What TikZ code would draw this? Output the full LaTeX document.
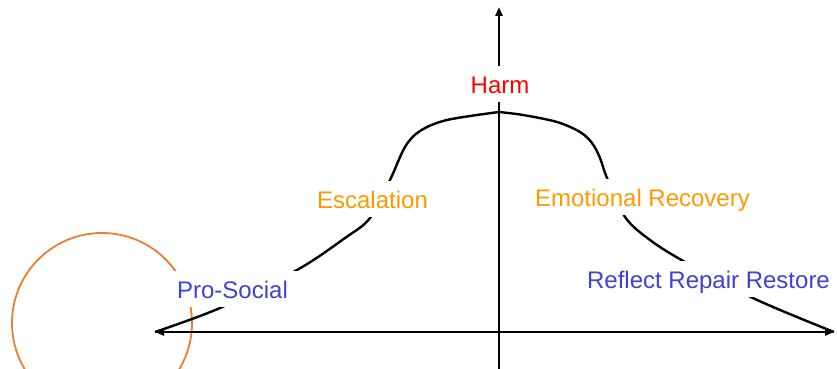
\documentclass[tikz,border=0pt]{standalone}
\usepackage{fontspec}
\setmainfont{Liberation Sans}
\usetikzlibrary{arrows.meta}
\definecolor{ink}{HTML}{000000}
\definecolor{harmred}{HTML}{FF0000}
\definecolor{amber}{HTML}{FF9900}
\definecolor{calm}{HTML}{4141D2}
\definecolor{ring}{HTML}{ED7D31}

\begin{document}
\begin{tikzpicture}[x=1pt,y=-1pt,font=\fontsize{24}{28}\selectfont,
  >={Triangle[length=9pt,width=7pt]},
  stage/.style={fill=white,inner xsep=14pt,inner ysep=0pt,
    text height=27pt,text depth=9pt,anchor=base}]
  \useasboundingbox (0,0) rectangle (837,369);
  \coordinate (west) at (155,332);
  \coordinate (east) at (834,332);
  \coordinate (top) at (499,7);
  \coordinate (foot) at (499,372);
  \coordinate (peak) at (499,112);

  \draw[ring,line width=1.8pt] (102,323) circle[radius=90];
  \draw[ink,line width=2.4pt,<->] (west)--(east);
  \draw[ink,line width=2.4pt,->] (foot)--(top);
  \draw[ink,line width=2.4pt] plot[smooth,tension=0.55] coordinates
    {(155,332) (220,308) (297,270) (345,238) (370,218) (390,180)
     (405,147) (420,131) (447,120) (499,112)};
  \draw[ink,line width=2.4pt] plot[smooth,tension=0.55] coordinates
    {(499,112) (523,115) (557,122) (580,132) (592,143) (600,158)
     (607,178) (625,217) (650,240) (685,262) (755,299) (834,332)};

  \node[stage,text=harmred] (harm) at (500,93) {Harm};
  \node[stage,text=amber] (escalation) at (372.5,208) {Escalation};
  \node[stage,text=amber] (recovery) at (642.5,206) {Emotional Recovery};
  \node[stage,text=calm,inner xsep=20pt] (prosocial) at (232.5,298) {Pro-Social};
  \node[stage,text=calm] (restore) at (708.5,288) {Reflect Repair Restore};
\end{tikzpicture}
\end{document}
